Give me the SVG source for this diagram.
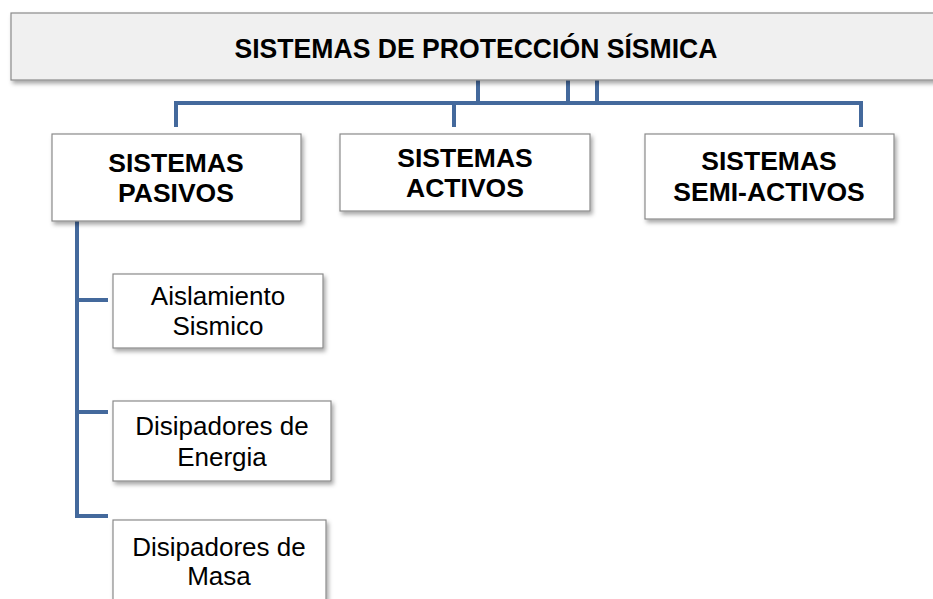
<svg xmlns="http://www.w3.org/2000/svg" width="933" height="599" viewBox="0 0 933 599">
<defs>
<filter id="sh" x="-10%" y="-10%" width="125%" height="140%">
<feDropShadow dx="2" dy="3" stdDeviation="2" flood-color="#000" flood-opacity="0.35"/>
</filter>
<style>
.box{fill:#fff;stroke:#8a8a8a;stroke-width:1.2;filter:url(#sh)}
.top{fill:#f0f0f0;stroke:#8a8a8a;stroke-width:1.2;filter:url(#sh)}
.b{font-family:"Liberation Sans",Arial,sans-serif;font-weight:bold;font-size:26.5px;fill:#000;text-anchor:middle}
.t{font-family:"Liberation Sans",Arial,sans-serif;font-weight:bold;font-size:28px;fill:#000;text-anchor:middle}
.r{font-family:"Liberation Sans",Arial,sans-serif;font-size:26px;fill:#000;text-anchor:middle}
.c{fill:none;stroke:#44699c;stroke-width:4;stroke-linejoin:miter}
</style>
</defs>
<g id="connectors">
<path class="c" d="M478,80 V103 M568,80 V103 M597,80 V103 M176,127 V103 H861 V127 M454,103 V127"/>
<path class="c" d="M77,221 V516 H108 M77,300 H108 M77,412 H108"/>
</g>
<g id="root">
<rect class="top" x="11" y="13" width="930" height="67"/>
<text class="t" x="476" y="58" textLength="483" lengthAdjust="spacingAndGlyphs">SISTEMAS DE PROTECCIÓN SÍSMICA</text>
</g>
<g id="pasivos">
<rect class="box" x="52" y="134" width="249" height="87"/>
<text class="b" x="176" y="172">SISTEMAS</text>
<text class="b" x="176" y="202">PASIVOS</text>
</g>
<g id="activos">
<rect class="box" x="340" y="134" width="250" height="77"/>
<text class="b" x="465" y="167">SISTEMAS</text>
<text class="b" x="465" y="197">ACTIVOS</text>
</g>
<g id="semiactivos">
<rect class="box" x="645" y="134" width="249" height="85"/>
<text class="b" x="769" y="170">SISTEMAS</text>
<text class="b" x="769" y="201">SEMI-ACTIVOS</text>
</g>
<g id="aislamiento">
<rect class="box" x="113" y="274" width="210" height="74"/>
<text class="r" x="218" y="305">Aislamiento</text>
<text class="r" x="218" y="335">Sismico</text>
</g>
<g id="energia">
<rect class="box" x="113" y="401" width="218" height="80"/>
<text class="r" x="222" y="435">Disipadores de</text>
<text class="r" x="222" y="466">Energia</text>
</g>
<g id="masa">
<rect class="box" x="113" y="520" width="213" height="90"/>
<text class="r" x="219" y="556">Disipadores de</text>
<text class="r" x="219" y="585">Masa</text>
</g>
</svg>
